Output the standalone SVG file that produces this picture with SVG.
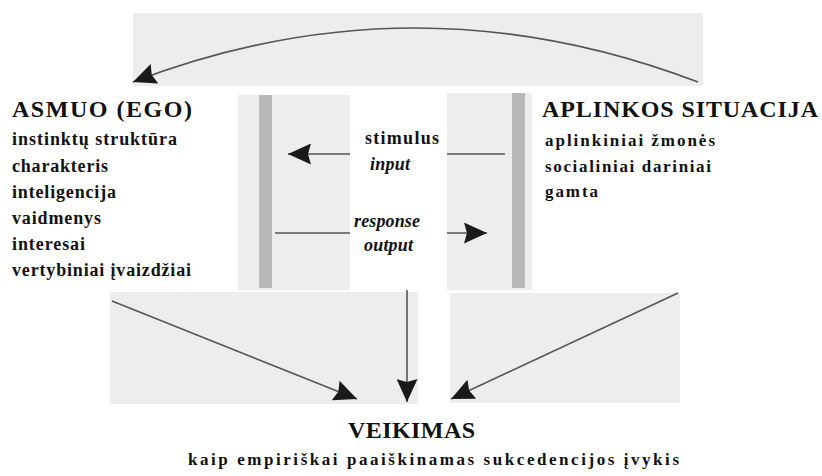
<svg xmlns="http://www.w3.org/2000/svg" width="822" height="476" viewBox="0 0 822 476">
  <style>
    .panel { fill: #ededed; }
    .bar { fill: #b9b9b9; }
    .edge { fill: none; stroke: #555555; stroke-width: 1.6; }
    .t { font-family: "Liberation Serif", "DejaVu Serif", serif; font-weight: 700; fill: #111111; }
    .title { font-size: 24px; }
    .item { font-size: 18px; }
    .ritem { font-size: 17px; }
    .lbl { font-size: 18px; }
    .it { font-style: italic; }
    .sub { font-size: 17px; }
  </style>
  <defs>
    <marker id="arrow" markerUnits="userSpaceOnUse" markerWidth="23" markerHeight="21" refX="23" refY="10.5" orient="auto" viewBox="0 0 23 21">
      <path d="M0,0 L23,10.5 L0,21 L3,10.5 z" fill="#1a1a1a" stroke="none"/>
    </marker>
  </defs>

  <rect width="822" height="476" fill="#ffffff"/>

  <!-- shaded backdrop panels -->
  <g id="backdrop">
    <rect class="panel" x="133" y="13" width="570" height="73"/>
    <rect class="panel" x="238" y="95" width="112" height="195"/>
    <rect class="panel" x="447" y="93" width="85" height="197"/>
    <rect class="bar" x="259" y="95" width="13" height="193"/>
    <rect class="bar" x="512" y="93" width="13" height="195"/>
    <rect class="panel" x="110" y="292" width="308" height="112"/>
    <rect class="panel" x="450" y="293" width="230" height="110"/>
  </g>

  <g id="connectors">
    <!-- feedback arc from situation back to the person -->
    <path class="edge" d="M698,82 Q415,-26 133,82" marker-end="url(#arrow)"/>
    <!-- stimulus / input -->
    <line class="edge" x1="447" y1="154" x2="505" y2="154"/>
    <line class="edge" x1="350" y1="154" x2="288" y2="154" marker-end="url(#arrow)"/>
    <!-- response / output -->
    <line class="edge" x1="275" y1="233" x2="350" y2="233"/>
    <line class="edge" x1="447" y1="233" x2="487" y2="233" marker-end="url(#arrow)"/>
    <!-- converging onto the action -->
    <line class="edge" x1="112" y1="301" x2="357" y2="399" marker-end="url(#arrow)"/>
    <line class="edge" x1="407" y1="290" x2="407" y2="402" marker-end="url(#arrow)"/>
    <line class="edge" x1="678" y1="293" x2="451" y2="399" marker-end="url(#arrow)"/>
  </g>

  <g id="flow-labels">
    <text class="t lbl" x="365" y="144" textLength="74" lengthAdjust="spacing">stimulus</text>
    <text class="t lbl it" x="370" y="170" textLength="40" lengthAdjust="spacing">input</text>
    <text class="t lbl it" x="354" y="227" textLength="66" lengthAdjust="spacing">response</text>
    <text class="t lbl it" x="364" y="251" textLength="49" lengthAdjust="spacing">output</text>
  </g>

  <g id="asmuo">
    <text class="t title" x="12" y="117" textLength="180" lengthAdjust="spacing">ASMUO (EGO)</text>
    <text class="t item" x="12" y="145" textLength="165" lengthAdjust="spacing">instinktų struktūra</text>
    <text class="t item" x="12" y="171.5" textLength="96" lengthAdjust="spacing">charakteris</text>
    <text class="t item" x="12" y="197.5" textLength="104" lengthAdjust="spacing">inteligencija</text>
    <text class="t item" x="12" y="223.5" textLength="89" lengthAdjust="spacing">vaidmenys</text>
    <text class="t item" x="12" y="249.5" textLength="73" lengthAdjust="spacing">interesai</text>
    <text class="t item" x="12" y="275.5" textLength="179" lengthAdjust="spacing">vertybiniai įvaizdžiai</text>
  </g>

  <g id="aplinkos-situacija">
    <text class="t title" x="542" y="117" textLength="276" lengthAdjust="spacing">APLINKOS SITUACIJA</text>
    <text class="t ritem" x="545" y="146" textLength="170" lengthAdjust="spacing">aplinkiniai žmonės</text>
    <text class="t ritem" x="545" y="172" textLength="166" lengthAdjust="spacing">socialiniai dariniai</text>
    <text class="t ritem" x="545" y="197" textLength="53" lengthAdjust="spacing">gamta</text>
  </g>

  <g id="veikimas">
    <text class="t title" x="348" y="438" textLength="127" lengthAdjust="spacing">VEIKIMAS</text>
    <text class="t sub" x="188" y="465" textLength="491" lengthAdjust="spacing">kaip empiriškai paaiškinamas sukcedencijos įvykis</text>
  </g>
</svg>
